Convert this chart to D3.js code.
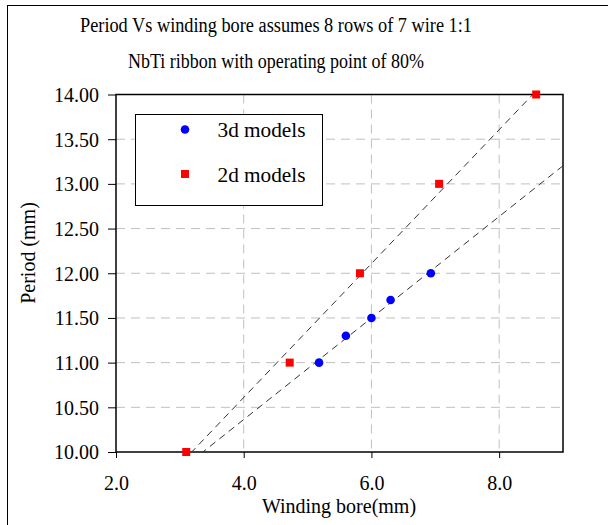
<!DOCTYPE html>
<html>
<head>
<meta charset="utf-8">
<script src="https://cdn.jsdelivr.net/npm/d3@7"></script>
<style>
  body { margin: 0; background: #fff; }
  text { font-family: "Liberation Serif", "Times New Roman", serif; fill: #000; }
</style>
</head>
<body>
<svg id="chart" width="608" height="525"></svg>
<script>
// data
var titleLines = ["Period Vs winding bore assumes 8 rows of  7 wire 1:1",
                  "NbTi ribbon with operating point of 80%"];
var bore3d = [5.18, 5.6, 6.0, 6.3, 6.93];
var period3d = [11.0, 11.3, 11.5, 11.7, 12.0];
var bore2d = [3.1, 4.72, 5.82, 7.06, 8.58];
var period2d = [10.0, 11.0, 12.0, 13.0, 14.0];
var xTicks = [2, 4, 6, 8];
var yTicks = [10, 10.5, 11, 11.5, 12, 12.5, 13, 13.5, 14];
var seriesNames = ["3d models", "2d models"];

var serif = '"Liberation Serif", "Times New Roman", serif';
var svg = d3.select("#chart");
var plot = {left: 116, top: 94.5, right: 563, bottom: 452};

var x = d3.scaleLinear().domain([2, 9]).range([plot.left, plot.right]);
var y = d3.scaleLinear().domain([10, 14]).range([plot.bottom, plot.top]);

// outer chart frame (runs off the picture to the right and bottom)
svg.append("rect")
  .attr("x", 7.5).attr("y", 5.5).attr("width", 700).attr("height", 600)
  .attr("fill", "none").attr("stroke", "#000").attr("stroke-width", 1);

// title
svg.append("g").selectAll("text")
  .data(titleLines)
  .enter()
  .append("text")
    .attr("x", 276)
    .attr("y", function(d, i) { return 32 + i * 36; })
    .attr("text-anchor", "middle")
    .style("font-size", "20.5px")
    .attr("textLength", function(d, i) { return i == 0 ? 392 : 296; })
    .attr("lengthAdjust", "spacingAndGlyphs")
    .text(function(d) { return d; });

svg.append("clipPath").attr("id", "clip")
  .append("rect")
    .attr("x", plot.left).attr("y", plot.top)
    .attr("width", plot.right - plot.left).attr("height", plot.bottom - plot.top);

// grid lines
var grid = svg.append("g").attr("stroke", "#c0c0c0").attr("stroke-dasharray", "9,6");
grid.selectAll("line.h")
  .data(yTicks.slice(1, -1))
  .enter()
  .append("line")
    .attr("x1", plot.left).attr("x2", plot.right)
    .attr("y1", function(d) { return y(d); })
    .attr("y2", function(d) { return y(d); });
grid.selectAll("line.v")
  .data(xTicks.slice(1))
  .enter()
  .append("line")
    .attr("y1", plot.top).attr("y2", plot.bottom)
    .attr("x1", function(d) { return x(d); })
    .attr("x2", function(d) { return x(d); });

// axes
var xAxis = d3.axisBottom(x).tickValues(xTicks).tickSize(6).tickSizeOuter(0)
  .tickFormat(d3.format(".1f"));
var yAxis = d3.axisLeft(y).tickValues(yTicks).tickSize(8).tickSizeOuter(0)
  .tickFormat(d3.format(".2f"));

var gx = svg.append("g").attr("transform", "translate(0," + plot.bottom + ")").call(xAxis);
var gy = svg.append("g").attr("transform", "translate(" + plot.left + ",0)").call(yAxis);
[gx, gy].forEach(function(g) {
  g.attr("font-family", serif).attr("font-size", 20);
  g.select(".domain").remove();
  g.selectAll("line").attr("stroke", "#000");
  g.selectAll("text").style("font-family", serif).style("font-size", "20px");
});
gx.selectAll("text").attr("dy", 0).attr("y", 38);
gy.selectAll("text").attr("x", -17).attr("dy", "0.34em");

// plot border
svg.append("rect")
  .attr("x", plot.left).attr("y", plot.top)
  .attr("width", plot.right - plot.left).attr("height", plot.bottom - plot.top)
  .attr("fill", "none").attr("stroke", "#000").attr("stroke-width", 1.5);

// linear trend lines, least squares fit of each series
function fit(xs, ys) {
  var mx = d3.mean(xs), my = d3.mean(ys);
  var sxy = d3.sum(xs, function(v, i) { return (v - mx) * (ys[i] - my); });
  var sxx = d3.sum(xs, function(v) { return (v - mx) * (v - mx); });
  var b = sxy / sxx;
  return function(v) { return my + b * (v - mx); };
}
var trends = [fit(bore3d, period3d), fit(bore2d, period2d)];
svg.append("g").attr("clip-path", "url(#clip)")
  .selectAll("line")
  .data(trends)
  .enter()
  .append("line")
    .attr("x1", x(2)).attr("x2", x(9))
    .attr("y1", function(f) { return y(f(2)); })
    .attr("y2", function(f) { return y(f(9)); })
    .attr("stroke", "#333").attr("stroke-width", 1)
    .attr("stroke-dasharray", "7,5");

// markers
var pts3d = bore3d.map(function(v, i) { return [v, period3d[i]]; });
var pts2d = bore2d.map(function(v, i) { return [v, period2d[i]]; });

svg.append("g").selectAll("circle")
  .data(pts3d)
  .enter()
  .append("circle")
    .attr("cx", function(d) { return x(d[0]); })
    .attr("cy", function(d) { return y(d[1]); })
    .attr("r", 4.3)
    .attr("fill", "#0000ff");

svg.append("g").selectAll("rect")
  .data(pts2d)
  .enter()
  .append("rect")
    .attr("x", function(d) { return x(d[0]) - 4; })
    .attr("y", function(d) { return y(d[1]) - 4; })
    .attr("width", 8).attr("height", 8)
    .attr("fill", "#ff0000");

// axis titles
svg.append("text")
  .attr("x", 339).attr("y", 513)
  .attr("text-anchor", "middle")
  .style("font-size", "20px")
  .text("Winding bore(mm)");
svg.append("text")
  .attr("transform", "translate(35,253) rotate(-90)")
  .attr("text-anchor", "middle")
  .style("font-size", "20px")
  .text("Period (mm)");

// legend
var legend = svg.append("g");
legend.append("rect")
  .attr("x", 135.5).attr("y", 114.5).attr("width", 187).attr("height", 91)
  .attr("fill", "#fff").attr("stroke", "#000").attr("stroke-width", 1);
legend.append("circle").attr("cx", 185).attr("cy", 129.5).attr("r", 4.3).attr("fill", "#0000ff");
legend.append("rect").attr("x", 181).attr("y", 170).attr("width", 8).attr("height", 8).attr("fill", "#ff0000");
legend.selectAll("text.lab")
  .data(seriesNames)
  .enter()
  .append("text")
    .attr("x", 217.5)
    .attr("y", function(d, i) { return 136.5 + i * 45; })
    .style("font-size", "20px")
    .attr("textLength", 88)
    .attr("lengthAdjust", "spacingAndGlyphs")
    .text(function(d) { return d; });
</script>
</body>
</html>
